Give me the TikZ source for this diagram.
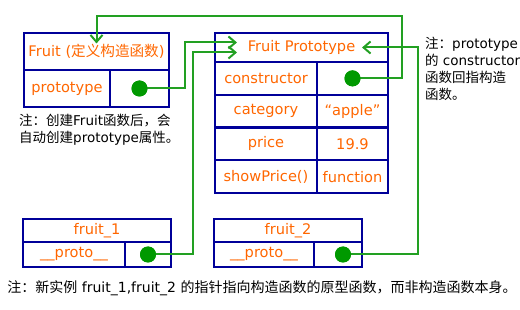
\documentclass[tikz,border=0pt]{standalone}
\usepackage{fontspec}
\setmainfont{DejaVu Sans}
\newfontfamily\cjk{Noto Sans CJK SC}
\usetikzlibrary{arrows.meta,positioning}
\definecolor{boxblue}{HTML}{000099}
\definecolor{labelorange}{HTML}{FF6600}
\definecolor{linkgreen}{HTML}{22A022}
\definecolor{dotgreen}{HTML}{009900}

\begin{document}
\begin{tikzpicture}[x=1pt, y=-1pt,
  cell/.style={rectangle, draw=boxblue, line width=2.4pt, outer sep=0pt, inner sep=0pt, text=labelorange, font=\fontsize{14.6}{16}\selectfont, anchor=north west},
  dot/.style={circle, fill=dotgreen, minimum size=16pt, inner sep=0pt},
  link/.style={draw=linkgreen, line width=2pt},
  tip/.style={-{Straight Barb[length=7pt, width=12pt]}},
  note/.style={inner sep=0pt, align=left, text=black, font=\fontsize{13.5}{17}\selectfont},
]
  \useasboundingbox (0,0) rectangle (520,310);

  % constructor function
  \node[cell, minimum width=145pt, minimum height=37pt] (fruit) at (24,33) {Fruit ({\cjk 定义构造函数})};
  \node[cell, minimum width=86pt, minimum height=37pt, below right=0pt of fruit.south west] (fkey) {prototype};
  \node[cell, minimum width=59pt, minimum height=37pt, right=0pt of fkey] (fval) {};

  % prototype object
  \node[cell, minimum width=173pt, minimum height=29pt] (ptitle) at (215,33) {Fruit Prototype};
  \node[cell, minimum width=102pt, minimum height=32.75pt, below right=0pt of ptitle.south west] (pctor) {constructor};
  \node[cell, minimum width=71pt, minimum height=32.75pt, right=0pt of pctor] (pctorval) {};
  \node[cell, minimum width=102pt, minimum height=32.75pt, below=0pt of pctor] (pcat) {category};
  \node[cell, minimum width=71pt, minimum height=32.75pt, right=0pt of pcat] (pcatval) {“apple”};
  \node[cell, minimum width=102pt, minimum height=32.75pt, below=0pt of pcat] (pprice) {price};
  \node[cell, minimum width=71pt, minimum height=32.75pt, right=0pt of pprice] (ppriceval) {19.9};
  \node[cell, minimum width=102pt, minimum height=32.75pt, below=0pt of pprice] (pshow) {showPrice()};
  \node[cell, minimum width=71pt, minimum height=32.75pt, right=0pt of pshow] (pshowval) {function};

  % instances
  \node[cell, minimum width=148pt, minimum height=23pt] (fone) at (23,219) {fruit\_1};
  \node[cell, minimum width=102pt, minimum height=25pt, below right=0pt of fone.south west] (fonekey) {\_\_proto\_\_};
  \node[cell, minimum width=46pt, minimum height=25pt, right=0pt of fonekey] (foneval) {};
  \node[cell, minimum width=148pt, minimum height=23pt] (ftwo) at (214,219) {fruit\_2};
  \node[cell, minimum width=100pt, minimum height=25pt, below right=0pt of ftwo.south west] (ftwokey) {\_\_proto\_\_};
  \node[cell, minimum width=48pt, minimum height=25pt, right=0pt of ftwokey] (ftwoval) {};

  % pointers
  \node[dot] (fdot) at (fval) {};
  \node[dot] (cdot) at (pctorval) {};
  \node[dot] (f1dot) at (foneval) {};
  \node[dot] (f2dot) at ([xshift=5pt]ftwoval.center) {};

  \draw[link, tip] (cdot.center) -- ++(49,0) |- ([yshift=17pt]fruit.north) -- ([yshift=8pt]fruit.center);
  \draw[link, tip] (fdot.center) -- ++(45,0) |- ([xshift=22pt, yshift=5pt]ptitle.west);
  \draw[link, tip] (f1dot.center) -- ++(45,0) |- ([xshift=22pt, yshift=-5pt]ptitle.west);
  \draw[link, tip] (f2dot.center) -- ++(75,0) |- ([xshift=-26pt]ptitle.east);
  \node[dot] at (fdot) {};
  \node[dot] at (cdot) {};
  \node[dot] at (f1dot) {};
  \node[dot] at (f2dot) {};

  % notes
  \node[note, anchor=north west] (fnote) at (19,114) {{\cjk 注：创建}Fruit{\cjk 函数后，会}\\{\cjk 自动创建}prototype{\cjk 属性。}};
  \node[note, anchor=north west] (pnote) at (425,37) {{\cjk 注：}prototype\\{\cjk 的} constructor\\{\cjk 函数回指构造}\\{\cjk 函数。}};
  \node[note, font=\fontsize{14}{17}\selectfont] (bnote) at (262,288) {{\cjk 注：新实例} fruit\_1,fruit\_2 {\cjk 的指针指向构造函数的原型函数，而非构造函数本身。}};
\end{tikzpicture}
\end{document}
